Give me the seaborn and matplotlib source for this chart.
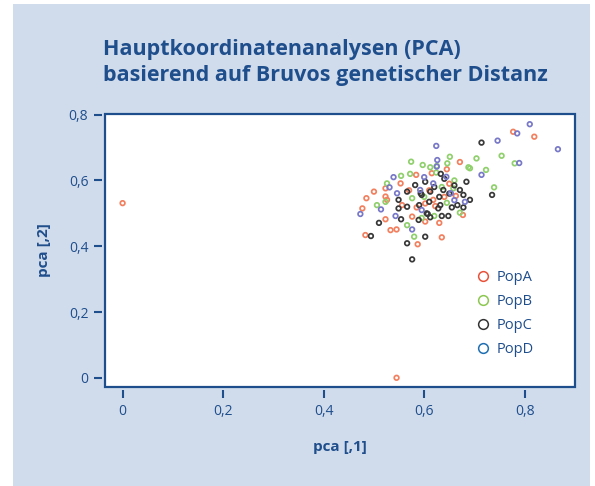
import numpy as np
import pandas as pd
import seaborn as sns
import matplotlib.pyplot as plt
from matplotlib.patches import Rectangle
from matplotlib.lines import Line2D
from matplotlib.ticker import FuncFormatter

sns.set_style("white")
plt.rcParams['font.family'] = ['Open Sans', 'DejaVu Sans']

# values
popA_x = [0.000, 0.545, 0.777, 0.819, 0.671, 0.584, 0.553, 0.523, 0.500, 0.485, 0.523, 0.526,
          0.556, 0.477, 0.585, 0.523, 0.576, 0.533, 0.545, 0.483, 0.635, 0.587, 0.645, 0.615,
          0.663, 0.618, 0.630, 0.677, 0.602, 0.622, 0.602, 0.610, 0.650, 0.570, 0.640]
popA_y = [0.531, 0.000, 0.748, 0.733, 0.656, 0.617, 0.591, 0.576, 0.566, 0.546, 0.551, 0.541,
          0.525, 0.515, 0.518, 0.482, 0.490, 0.449, 0.451, 0.434, 0.427, 0.406, 0.634, 0.622,
          0.553, 0.541, 0.471, 0.495, 0.475, 0.522, 0.530, 0.570, 0.590, 0.570, 0.550]

popB_x = [0.754, 0.704, 0.780, 0.691, 0.723, 0.739, 0.574, 0.597, 0.612, 0.651, 0.646, 0.688,
          0.572, 0.554, 0.526, 0.576, 0.506, 0.523, 0.566, 0.580, 0.624, 0.658, 0.645, 0.595,
          0.620, 0.671, 0.625, 0.600, 0.660, 0.635]
popB_y = [0.675, 0.667, 0.652, 0.637, 0.632, 0.579, 0.657, 0.647, 0.640, 0.672, 0.652, 0.640,
          0.620, 0.614, 0.591, 0.546, 0.525, 0.535, 0.464, 0.429, 0.624, 0.576, 0.532, 0.486,
          0.492, 0.502, 0.644, 0.550, 0.600, 0.580]

popC_x = [0.714, 0.684, 0.735, 0.566, 0.582, 0.602, 0.549, 0.566, 0.549, 0.510, 0.554, 0.589,
          0.605, 0.494, 0.602, 0.566, 0.576, 0.633, 0.638, 0.671, 0.678, 0.691, 0.612, 0.595,
          0.628, 0.648, 0.635, 0.678, 0.666, 0.655, 0.607, 0.612, 0.632, 0.593, 0.620, 0.630,
          0.650, 0.610, 0.590, 0.660, 0.640]
popC_y = [0.715, 0.596, 0.556, 0.566, 0.586, 0.596, 0.541, 0.520, 0.515, 0.471, 0.482, 0.480,
          0.500, 0.431, 0.429, 0.409, 0.360, 0.620, 0.571, 0.571, 0.556, 0.541, 0.566, 0.556,
          0.515, 0.492, 0.492, 0.518, 0.525, 0.518, 0.498, 0.488, 0.525, 0.561, 0.580, 0.550,
          0.560, 0.535, 0.525, 0.585, 0.605]

popD_x = [0.810, 0.785, 0.746, 0.866, 0.789, 0.714, 0.624, 0.626, 0.625, 0.539, 0.531, 0.546,
          0.514, 0.473, 0.543, 0.576, 0.644, 0.618, 0.653, 0.681, 0.595, 0.592, 0.600, 0.660]
popD_y = [0.771, 0.743, 0.721, 0.695, 0.653, 0.617, 0.705, 0.662, 0.642, 0.610, 0.579, 0.561,
          0.512, 0.498, 0.492, 0.451, 0.611, 0.591, 0.561, 0.535, 0.510, 0.571, 0.610, 0.540]

pops = ["PopA", "PopB", "PopC", "PopD"]
point_colors = ["#f2805f", "#8fd06c", "#383838", "#7878c8"]
legend_colors = ["#e8523a", "#8cc850", "#333333", "#1f6fb2"]
navy = "#1f4e8c"

df = pd.concat([
    pd.DataFrame({"x": popA_x, "y": popA_y, "pop": "PopA"}),
    pd.DataFrame({"x": popB_x, "y": popB_y, "pop": "PopB"}),
    pd.DataFrame({"x": popC_x, "y": popC_y, "pop": "PopC"}),
    pd.DataFrame({"x": popD_x, "y": popD_y, "pop": "PopD"}),
])

fig = plt.figure(figsize=(5.95, 4.86), dpi=100, facecolor="white")
fig.patches.append(Rectangle((13 / 595, 0), 577 / 595, 482 / 486, transform=fig.transFigure,
                             facecolor="#d0dcec", edgecolor="none", zorder=-5))
ax = fig.add_axes([105 / 595, 99 / 486, 470 / 595, 273 / 486])

for p, c in zip(pops, point_colors):
    sub = df[df["pop"] == p]
    sns.scatterplot(data=sub, x="x", y="y", ax=ax, marker="o", s=11,
                    facecolors="none", edgecolor=c, linewidth=1.25, legend=False)

ax.set_xlim(-0.035, 0.9)
ax.set_ylim(-0.028, 0.802)
ax.set_xticks([0, 0.2, 0.4, 0.6, 0.8])
ax.set_yticks([0, 0.2, 0.4, 0.6, 0.8])
fmt = FuncFormatter(lambda v, _: "0" if abs(v) < 1e-9 else f"{v:.1f}".replace(".", ","))
ax.xaxis.set_major_formatter(fmt)
ax.yaxis.set_major_formatter(fmt)

# box drawn by the axes patch, ticks sit slightly off the box
ax.patch.set_facecolor("white")
ax.patch.set_edgecolor(navy)
ax.patch.set_linewidth(1.6)
for s in ["left", "bottom"]:
    ax.spines[s].set_position(("outward", 2))
for s in ax.spines.values():
    s.set_visible(False)
ax.tick_params(axis="both", direction="out", length=6, width=1.5, color=navy,
               labelcolor=navy, labelsize=10, pad=4, bottom=True, left=True)

ax.set_xlabel("pca [,1]", fontsize=11, fontweight="bold", color=navy, labelpad=15)
ax.set_ylabel("pca [,2]", fontsize=11, fontweight="bold", color=navy, labelpad=13)

handles = [Line2D([], [], marker="o", linestyle="none", markersize=7, markerfacecolor="none",
                  markeredgecolor=c, markeredgewidth=1.1) for c in legend_colors]
leg = ax.legend(handles, pops, loc="center left", bbox_to_anchor=(0.758, 0.27), frameon=False,
                fontsize=10.5, handletextpad=0.3, labelspacing=0.62, handlelength=1.2)
for t in leg.get_texts():
    t.set_color(navy)

fig.text(103 / 595, 1 - 55 / 486, "Hauptkoordinatenanalysen (PCA)",
         fontsize=15.5, fontweight="bold", color=navy, ha="left", va="baseline")
fig.text(103 / 595, 1 - 81 / 486, "basierend auf Bruvos genetischer Distanz",
         fontsize=15.5, fontweight="bold", color=navy, ha="left", va="baseline")

fig.savefig("out.png", dpi=100)
